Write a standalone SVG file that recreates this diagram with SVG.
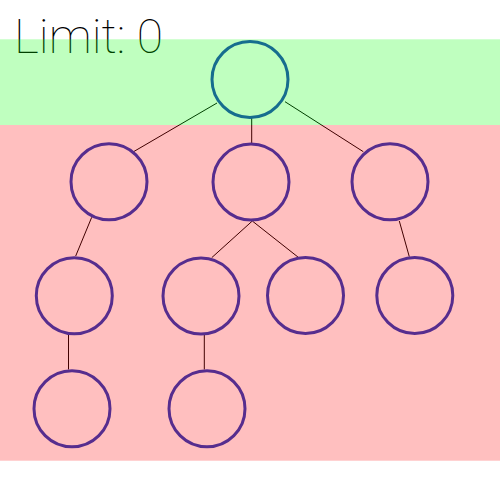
<svg xmlns="http://www.w3.org/2000/svg" width="500" height="500" viewBox="0 0 500 500">
<style>
.node{fill:none;stroke:#1e3cbe;stroke-width:3}
.edge{stroke:#000;stroke-width:1;fill:none}
.band{stroke:none;opacity:0.25}
.title{font-family:Roboto,"Liberation Sans",sans-serif;font-weight:100;font-size:48px;fill:#000}
</style>
<rect width="500" height="500" fill="#fff"/>
<text class="title" x="14" y="52.7">Limit: 0</text>
<g id="connectors">
<line class="edge" x1="217" y1="103" x2="133" y2="152"/>
<line class="edge" x1="251.7" y1="118" x2="251.7" y2="143"/>
<line class="edge" x1="285" y1="101.7" x2="363.3" y2="151.7"/>
<line class="edge" x1="91.7" y1="217.3" x2="75.7" y2="256"/>
<line class="edge" x1="252.3" y1="221" x2="211.7" y2="257.7"/>
<line class="edge" x1="252.3" y1="221" x2="298.3" y2="257.3"/>
<line class="edge" x1="399.3" y1="221" x2="409.3" y2="256.7"/>
<line class="edge" x1="68.5" y1="335" x2="68.5" y2="369.5"/>
<line class="edge" x1="204.3" y1="335" x2="204.3" y2="369.5"/>
</g>
<g id="n0"><circle class="node" cx="250" cy="79.5" r="38"/></g>
<g id="n1"><circle class="node" cx="109" cy="181.7" r="38"/></g>
<g id="n2"><circle class="node" cx="251" cy="182" r="38"/></g>
<g id="n3"><circle class="node" cx="390" cy="181.8" r="38"/></g>
<g id="n4"><circle class="node" cx="74.3" cy="295.7" r="38"/></g>
<g id="n5"><circle class="node" cx="201" cy="296" r="38"/></g>
<g id="n6"><circle class="node" cx="305.5" cy="295.5" r="38"/></g>
<g id="n7"><circle class="node" cx="414.8" cy="295.5" r="38"/></g>
<g id="n8"><circle class="node" cx="72" cy="408.7" r="38"/></g>
<g id="n9"><circle class="node" cx="207" cy="408.7" r="38"/></g>
<rect class="band" x="0" y="39.3" width="500" height="85.7" fill="#00ff00"/>
<rect class="band" x="0" y="125" width="500" height="335.7" fill="#ff0000"/>
</svg>
